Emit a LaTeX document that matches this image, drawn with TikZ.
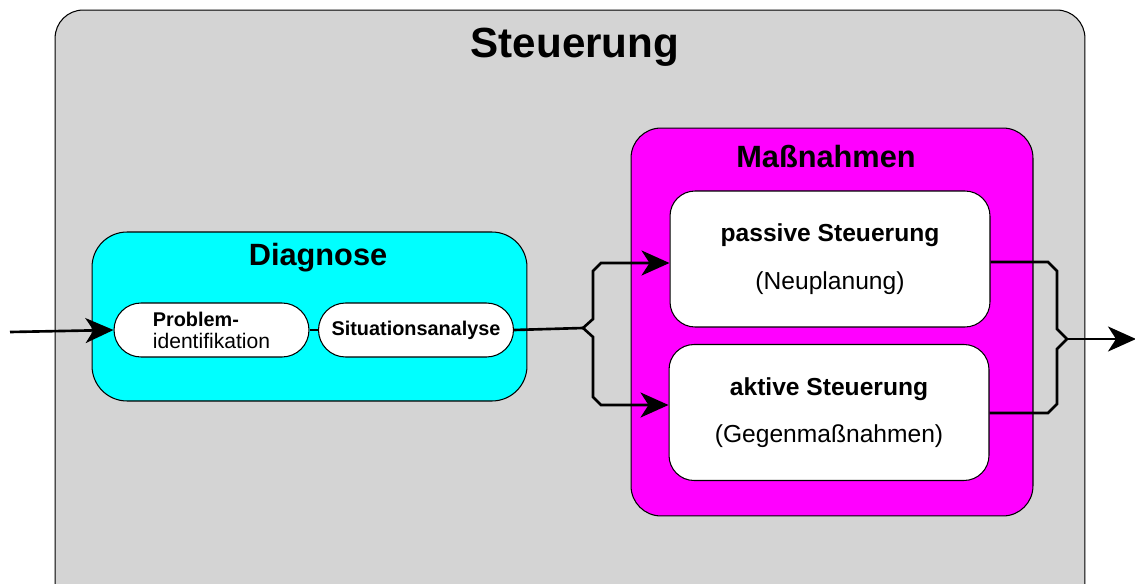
\documentclass[tikz,border=0pt]{standalone}
\usepackage{fontspec}
\setmainfont{Liberation Sans}
\usepackage{tikz}
\usetikzlibrary{arrows.meta}
\usetikzlibrary{positioning}

\definecolor{grau}{RGB}{212,212,212}
\definecolor{tuerkis}{RGB}{0,255,255}
\definecolor{lila}{RGB}{255,0,255}

\tikzset{
  kasten/.style={draw=black, line width=0.6pt, rounded corners=#1},
  kasten/.default=5mm,
  pille/.style={kasten=5.4mm, fill=white, minimum width=3.9cm, minimum height=1.08cm,
    inner sep=0pt, align=left, font=\fontsize{11.3}{12.5}\selectfont},
  weiss/.style={kasten=5mm, fill=white, minimum width=6.4cm, minimum height=2.72cm,
    align=center, font=\fontsize{14}{27}\selectfont},
  titel/.style={font=\fontsize{17.5}{20}\selectfont\bfseries},
  linie/.style={line width=1.5pt},
  pfeil/.style={linie, -{Stealth[length=5.6mm,width=5mm,inset=1.6mm]}}
}

\begin{document}
\begin{tikzpicture}[x=0.02cm,y=-0.02cm]
     \clip (0,0) rectangle (1135,584);

     % Rahmen Steuerung
     \node[kasten=5.6mm, fill=grau, minimum width=20.6cm, minimum height=12cm] (steuer) at (570,310) {};
     \node[font=\fontsize{24}{28}\selectfont\bfseries] (steuertitel) at (575,47) {Steuerung};

     % Massnahmen
     \node[kasten=6mm, fill=lila, minimum width=8.04cm, minimum height=7.76cm] (massn) at (832,322) {};
     \node[titel] (massntitel) at (826,157) {Maßnahmen};
     \node[weiss] (passiv) at (830,259) {\textbf{passive Steuerung}\\(Neuplanung)};
     \node[weiss] (aktiv) at (829,412.5) {\textbf{aktive Steuerung}\\(Gegenmaßnahmen)};

     % Diagnose
     \node[kasten=7mm, fill=tuerkis, minimum width=8.7cm, minimum height=3.38cm] (diag) at (309.5,316.5) {};
     \node[titel] (diagtitel) at (318,258) {Diagnose};
     \node[pille] (prob) at (211.5,330) {\textbf{Problem-}\\\fontsize{12}{12.5}\selectfont identifikation};
     \node[pille] (sit) at (416,330) {\textbf{Situationsanalyse}};

     % Klammern und Pfeile
     \coordinate (ein) at (10,332);
     \coordinate (klL) at (583,328);
     \coordinate (klR) at (1067,339);
     \coordinate (aus) at (1136,339);

     \draw[pfeil] (ein) -- (prob.west);
     \draw[line width=0.6pt] (prob.east) -- (sit.west);
     \draw[linie] (sit.east) -- (klL);
     \draw[pfeil] (klL) -- (593,319) -- (593,271) -- (601,263) -- (passiv.west |- 0,263);
     \draw[pfeil] (klL) -- (593,337) -- (593,397) -- (601,405) -- (aktiv.west |- 0,405);
     \draw[linie] (passiv.east |- 0,262) -- (1048,262) -- (1057,271) -- (1057,329) -- (klR);
     \draw[linie] (aktiv.east |- 0,413) -- (1048,413) -- (1057,404) -- (1057,349) -- (klR);
     \draw[pfeil] (klR) -- (aus);

   \end{tikzpicture}
\end{document}
